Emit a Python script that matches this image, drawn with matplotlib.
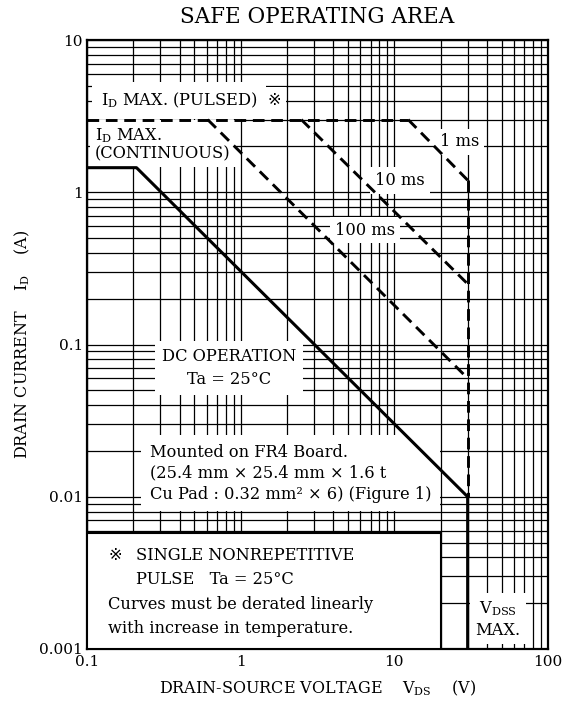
import numpy as np
import matplotlib
matplotlib.use("Agg")
import matplotlib.pyplot as plt
from matplotlib.ticker import LogLocator, FixedLocator, FixedFormatter, NullFormatter
from matplotlib.patches import Rectangle

plt.rcParams['font.family'] = ['DejaVu Serif', 'DejaVu Sans', 'Noto Sans CJK JP']
plt.rcParams['mathtext.fontset'] = 'dejavuserif'

# DC operation boundary (solid)
dc_v = [0.1, 0.21, 30, 30]
dc_i = [1.45, 1.45, 0.01, 0.001]

# pulsed boundaries (dashed)
pulsed_v = [0.1, 12.3]
pulsed_i = [3.0, 3.0]
ms1_v = [12.3, 30]
ms1_i = [3.0, 1.2]
ms10_v = [2.48, 30]
ms10_i = [3.0, 0.25]
ms100_v = [0.61, 30]
ms100_i = [3.0, 0.06]
vdss_v = [30, 30]
vdss_i = [1.2, 0.01]

xticks = [0.1, 1, 10, 100]
xtick_labels = ["0.1", "1", "10", "100"]
yticks = [0.001, 0.01, 0.1, 1, 10]
ytick_labels = ["0.001", "0.01", "0.1", "1", "10"]

fig = plt.figure(figsize=(5.62, 7.13), dpi=100)
ax = fig.add_axes([87/562, 1-649/713, 461/562, 609/713])
ax.set_xscale('log')
ax.set_yscale('log')
ax.set_xlim(0.1, 100)
ax.set_ylim(0.001, 10)

ax.xaxis.set_major_locator(FixedLocator(xticks))
ax.xaxis.set_major_formatter(FixedFormatter(xtick_labels))
ax.yaxis.set_major_locator(FixedLocator(yticks))
ax.yaxis.set_major_formatter(FixedFormatter(ytick_labels))
ax.xaxis.set_minor_locator(LogLocator(base=10, subs=np.arange(2, 10)))
ax.yaxis.set_minor_locator(LogLocator(base=10, subs=np.arange(2, 10)))
ax.xaxis.set_minor_formatter(NullFormatter())
ax.yaxis.set_minor_formatter(NullFormatter())
ax.tick_params(which='both', length=0, labelsize=11)
ax.tick_params(axis='x', pad=4)
ax.tick_params(axis='y', pad=3)

ax.set_axisbelow(True)
ax.grid(which='both', color='black', lw=0.9)
for s in ax.spines.values():
    s.set_linewidth(1.6)

dash = dict(color='black', lw=2.1, dashes=(4, 2.3), zorder=5)
ax.plot(pulsed_v, pulsed_i, **dash)
ax.plot(ms1_v, ms1_i, **dash)
ax.plot(ms10_v, ms10_i, **dash)
ax.plot(ms100_v, ms100_i, **dash)
ax.plot(vdss_v, vdss_i, **dash)
ax.plot(dc_v, dc_i, color='black', lw=2.2, zorder=6)

def box(pad):
    return dict(boxstyle='square,pad=%s' % pad, fc='white', ec='none')

fs = 11.7
t1 = ax.text(0.123, 4.0, r'I$_\mathrm{D}$ MAX. (PULSED)', fontsize=fs,
             ha='left', va='center', bbox=box(0.55), zorder=3)
ax.annotate('※', xy=(1, 0.5), xycoords=t1, xytext=(7, 0), textcoords='offset points',
            fontsize=fs, ha='left', va='center', bbox=box(0.3), zorder=3)
ax.text(0.113, 2.07, 'I$_\\mathrm{D}$ MAX.\n(CONTINUOUS)', fontsize=fs, ha='left',
        va='center', linespacing=1.05, bbox=box(0.3), zorder=3)
ax.text(26.7, 2.14, '1 ms', fontsize=fs, ha='center', va='center', bbox=box(0.3), zorder=3)
ax.text(10.9, 1.19, '10 ms', fontsize=fs, ha='center', va='center', bbox=box(0.3), zorder=3)
ax.text(6.44, 0.565, '100 ms', fontsize=fs, ha='center', va='center', bbox=box(0.3), zorder=3)
ax.text(0.84, 0.070, 'DC OPERATION\nTa = 25°C', fontsize=fs, ha='center', va='center',
        linespacing=1.4, bbox=box(0.45), zorder=3)
ax.text(0.257, 0.0143, 'Mounted on FR4 Board.\n(25.4 mm × 25.4 mm × 1.6 t\n'
        'Cu Pad : 0.32 mm² × 6) (Figure 1)', fontsize=fs, ha='left', va='center',
        linespacing=1.3, bbox=box(0.55), zorder=3)

# note box at the bottom left
ax.add_patch(Rectangle((0.1, 0.001), 20 - 0.1, 0.00578 - 0.001, fc='white',
                       ec='black', lw=1.5, zorder=3))
ax.text(0.138, 0.00414, '※', fontsize=fs, ha='left', va='center', zorder=4)
ax.text(0.208, 0.00414, 'SINGLE NONREPETITIVE', fontsize=fs, ha='left', va='center', zorder=4)
ax.text(0.208, 0.00284, 'PULSE   Ta = 25°C', fontsize=fs, ha='left', va='center', zorder=4)
ax.text(0.137, 0.00195, 'Curves must be derated linearly', fontsize=fs, ha='left',
        va='center', zorder=4)
ax.text(0.137, 0.00137, 'with increase in temperature.', fontsize=fs, ha='left',
        va='center', zorder=4)

ax.text(47.2, 0.00158, 'V$_\\mathrm{DSS}$\nMAX.', fontsize=fs, ha='center', va='center',
        linespacing=1.3, bbox=box(0.35), zorder=3)

fig.text(0.565, 1 - 17/713, 'SAFE OPERATING AREA', fontsize=15.5, ha='center', va='center')
ax.set_xlabel('DRAIN-SOURCE VOLTAGE    V$_\\mathrm{DS}$    (V)', fontsize=11.5, labelpad=7)
ax.set_ylabel('DRAIN CURRENT    I$_\\mathrm{D}$    (A)', fontsize=11.5, labelpad=5)

fig.savefig('out.png', dpi=100)
